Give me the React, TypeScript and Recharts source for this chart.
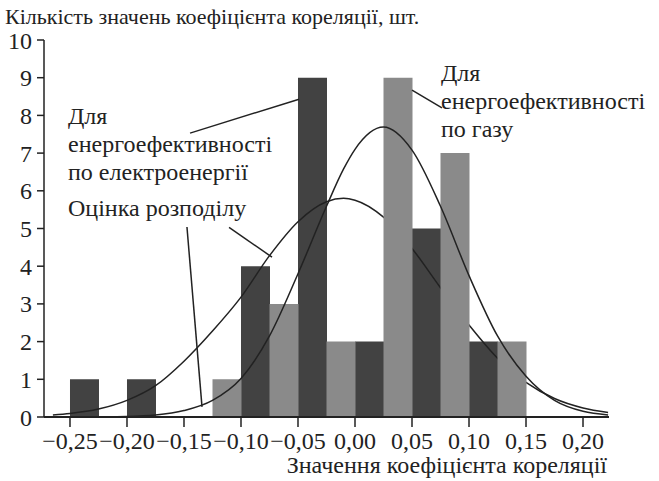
import React from "react"
import { ComposedChart, Bar, Line, XAxis, YAxis, ReferenceLine } from "recharts"

// histogram bins (0.05 wide); dark bar in left half, grey bar in right half
const binStarts = [-0.25, -0.2, -0.15, -0.1, -0.05, 0, 0.05, 0.1]
const electricityCounts = [1, 1, 0, 4, 9, 2, 5, 2]
const gasCounts = [0, 0, 1, 3, 2, 9, 7, 2]

// fitted distribution curves
const curveX = [
  -0.265, -0.25, -0.225, -0.2, -0.175, -0.15, -0.125, -0.1, -0.075, -0.05, -0.025,
  -0.01, 0, 0.025, 0.05, 0.075, 0.1, 0.125, 0.15, 0.175, 0.2, 0.222,
]
const electricityFit = [
  0.055, 0.094, 0.21, 0.44, 0.83, 1.48, 2.28, 3.18, 4.28, 5.18, 5.71,
  5.8, 5.75, 5.3, 4.47, 3.43, 2.44, 1.56, 0.92, 0.49, 0.24, 0.12,
]
const gasFit = [
  0, 0, 0.003, 0.012, 0.05, 0.17, 0.44, 1.02, 2.15, 3.8, 5.59,
  6.58, 7.1, 7.69, 7.08, 5.59, 3.75, 2.15, 1.08, 0.44, 0.15, 0.055,
]

const xTicks = [-0.25, -0.2, -0.15, -0.1, -0.05, 0, 0.05, 0.1, 0.15, 0.2]
const yTicks = [0, 1, 2, 3, 4, 5, 6, 7, 8, 9, 10]

const title = "Кількість значень коефіцієнта кореляції, шт."
const xTitle = "Значення коефіцієнта кореляції"
const electricityNote = ["Для", "енергоефективності", "по електроенергії"]
const fitNote = "Оцінка розподілу"
const gasNote = ["Для", "енергоефективності", "по газу"]

const barRows = binStarts.flatMap((start, i) => [
  { x: start + 0.0125, electricity: electricityCounts[i], gas: 0 },
  { x: start + 0.0375, electricity: 0, gas: gasCounts[i] },
])

const curveRows = curveX.map((x, i) => ({
  x,
  electricity: electricityFit[i],
  gas: gasFit[i],
}))

const font = '"Liberation Serif", "Times New Roman", serif'
const ink = "#222"
const xDomain = [-0.2728, 0.2228]

const fmt = (v: number) => {
  const s = Math.abs(v).toFixed(2).replace(".", ",")
  return v < -1e-9 ? "\u2212" + s : s
}

const tickStyle = { fill: ink, fontSize: 24, fontFamily: font }

const note = (top: number, left: number, size = 24): React.CSSProperties => ({
  position: "absolute",
  left,
  top,
  fontSize: size,
  lineHeight: "28px",
  whiteSpace: "nowrap",
  color: ink,
  fontFamily: font,
})

export default function App() {
  return (
    <div
      style={{
        position: "absolute",
        left: 0,
        top: 0,
        width: 659,
        height: 481,
        background: "#fff",
        fontFamily: font,
      }}
    >
      <ComposedChart
        width={659}
        height={481}
        data={barRows}
        margin={{ top: 40, right: 50, bottom: 0, left: 0 }}
        barCategoryGap={0}
        barGap={0}
      >
        <XAxis
          xAxisId="bars"
          dataKey="x"
          type="number"
          domain={xDomain}
          allowDataOverflow
          ticks={xTicks}
          interval={0}
          tickFormatter={fmt}
          height={64}
          tickSize={10}
          tickMargin={5}
          tick={tickStyle}
          axisLine={{ stroke: ink, strokeWidth: 2 }}
          tickLine={{ stroke: ink, strokeWidth: 1.5 }}
        />
        <XAxis xAxisId="curve" dataKey="x" type="number" domain={xDomain} allowDataOverflow hide />
        <YAxis
          type="number"
          domain={[0, 10]}
          ticks={yTicks}
          interval={0}
          width={44}
          tickSize={7}
          tickMargin={5}
          tick={tickStyle}
          axisLine={{ stroke: ink, strokeWidth: 1.5 }}
          tickLine={{ stroke: ink, strokeWidth: 1.5 }}
        />
        <Bar xAxisId="bars" dataKey="electricity" stackId="h" fill="#424242" isAnimationActive={false} zIndex={300} />
        <Line
          xAxisId="curve"
          data={curveRows}
          dataKey="electricity"
          type="monotone"
          stroke={ink}
          strokeWidth={1.5}
          dot={false}
          activeDot={false}
          isAnimationActive={false}
          zIndex={340}
        />
        <Bar xAxisId="bars" dataKey="gas" stackId="h" fill="#8a8a8a" isAnimationActive={false} zIndex={360} />
        <Line
          xAxisId="curve"
          data={curveRows}
          dataKey="gas"
          type="monotone"
          stroke={ink}
          strokeWidth={1.5}
          dot={false}
          activeDot={false}
          isAnimationActive={false}
          zIndex={400}
        />
        {/* leader lines for the notes */}
        <ReferenceLine xAxisId="bars" segment={[{ x: -0.1447, y: 7.53 }, { x: -0.0491, y: 8.43 }]} stroke={ink} strokeWidth={1.5} ifOverflow="visible" zIndex={450} />
        <ReferenceLine xAxisId="bars" segment={[{ x: -0.1474, y: 5.04 }, { x: -0.1342, y: 0.27 }]} stroke={ink} strokeWidth={1.5} ifOverflow="visible" zIndex={450} />
        <ReferenceLine xAxisId="bars" segment={[{ x: -0.1105, y: 5.03 }, { x: -0.0728, y: 4.24 }]} stroke={ink} strokeWidth={1.5} ifOverflow="visible" zIndex={450} />
        <ReferenceLine xAxisId="bars" segment={[{ x: 0.05, y: 8.67 }, { x: 0.0763, y: 8.2 }]} stroke={ink} strokeWidth={1.5} ifOverflow="visible" zIndex={450} />
      </ComposedChart>
      <div style={note(3, 5, 22)}>{title}</div>
      <div style={{ ...note(451, 0), width: 607, textAlign: "right" }}>{xTitle}</div>
      <div style={note(102, 68)}>
        {electricityNote.map((t) => (
          <div key={t}>{t}</div>
        ))}
      </div>
      <div style={note(194, 68)}>{fitNote}</div>
      <div style={note(59, 441)}>
        {gasNote.map((t) => (
          <div key={t}>{t}</div>
        ))}
      </div>
    </div>
  )
}
